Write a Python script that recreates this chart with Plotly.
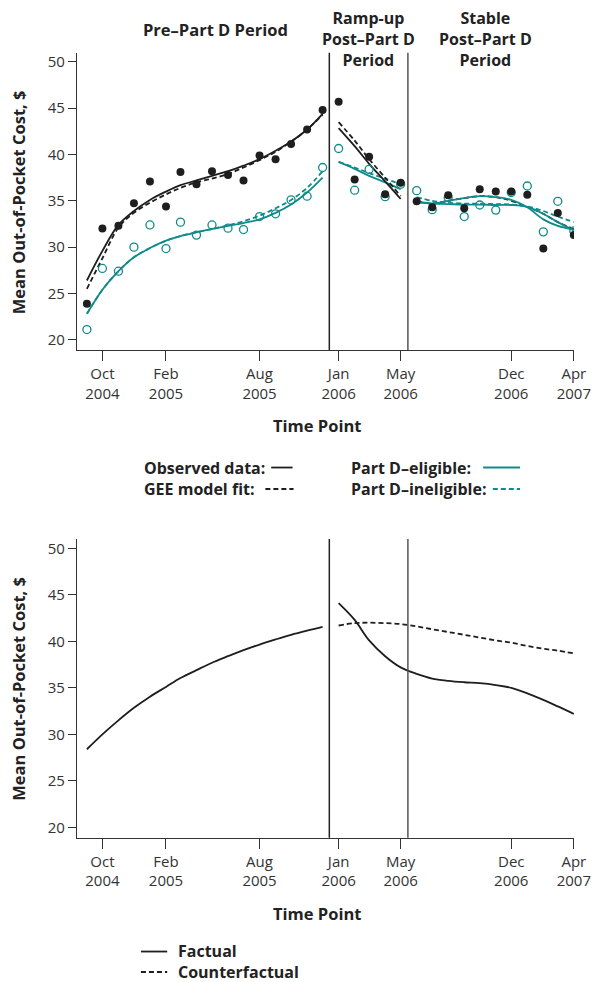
import plotly.graph_objects as go
import pandas as pd

W, H = 608, 982

# ---------------- data ----------------
def mlist(a, b):
    return [d.strftime('%Y-%m-%d') for d in pd.date_range(a, b, freq='MS')]

months_pre = mlist('2004-09-01', '2005-12-01')      # 16
months_ramp = mlist('2006-01-01', '2006-05-01')     # 5
months_stable = mlist('2006-06-01', '2007-04-01')   # 11
months_post = mlist('2006-01-01', '2007-04-01')     # 16
months_all = months_pre + months_post

# observed monthly means (top panel)
eligible_obs = [23.9, 32.0, 32.3, 34.75, 37.1, 34.4, 38.1, 36.8, 38.2, 37.8, 37.2, 39.9, 39.5, 41.15, 42.7, 44.8,
                45.7, 37.3, 39.75, 35.7, 36.95,
                34.95, 34.3, 35.6, 34.2, 36.25, 36.0, 36.0, 35.65, 29.85, 33.7, 31.3]
ineligible_obs = [21.1, 27.7, 27.4, 30.0, 32.4, 29.85, 32.7, 31.3, 32.4, 32.05, 31.9, 33.3, 33.6, 35.1, 35.5, 38.6,
                  40.65, 36.15, 38.4, 35.45, 36.8,
                  36.1, 34.05, 35.35, 33.3, 34.55, 34.0, 35.9, 36.6, 31.65, 34.95, 31.75]

# fitted curves, pre period
black_solid_pre = [26.4, 29.6, 32.4, 33.9, 35.1, 36.0, 36.7, 37.2, 37.7, 38.2, 38.8, 39.5, 40.4, 41.4, 42.7, 44.4]
black_dash_pre = [25.5, 28.8, 32.1, 33.7, 34.8, 35.7, 36.4, 37.0, 37.4, 37.9, 38.6, 39.4, 40.3, 41.4, 42.7, 44.3]
teal_solid_pre = [22.8, 25.4, 27.4, 28.9, 29.9, 30.7, 31.2, 31.6, 31.95, 32.3, 32.6, 33.0, 33.7, 34.6, 35.9, 37.5]
teal_dash_pre = [22.8, 25.4, 27.4, 28.9, 29.9, 30.7, 31.2, 31.6, 31.95, 32.35, 32.8, 33.4, 34.2, 35.1, 36.4, 38.2]

# fitted lines, ramp-up period
black_solid_ramp = [42.85, 40.9, 39.0, 37.1, 35.2]
black_dash_ramp = [43.5, 41.5, 39.5, 37.5, 35.5]
teal_solid_ramp = [39.2, 38.45, 37.7, 37.0, 36.25]
teal_dash_ramp = [39.2, 38.6, 38.0, 37.4, 36.8]

# fitted lines, stable period
teal_wavy_stable = [35.0, 34.7, 35.0, 35.3, 35.5, 35.4, 35.1, 34.3, 33.0, 32.3, 31.9]
teal_flat_stable = [34.8, 34.7, 34.65, 34.6, 34.6, 34.55, 34.55, 34.35, 33.6, 32.7, 31.8]
teal_dash_stable = [35.4, 35.0, 34.8, 34.7, 34.7, 34.65, 34.6, 34.4, 33.9, 33.3, 32.7]
black_dash_stable = [35.0, 34.7, 35.0, 35.3, 35.5, 35.4, 35.0, 34.35, 33.6, 32.7, 31.95]

# bottom panel
factual_pre = [28.4, 30.0, 31.5, 32.85, 34.05, 35.1, 36.05, 36.9, 37.7, 38.4, 39.05, 39.65, 40.2, 40.7, 41.15, 41.55]
factual_post = [44.1, 42.3, 40.1, 38.4, 37.2, 36.5, 36.0, 35.75, 35.6, 35.5, 35.3, 35.0, 34.4, 33.7, 33.0, 32.2]
counterfactual = [41.7, 41.95, 42.0, 41.95, 41.85, 41.6, 41.3, 41.0, 40.7, 40.4, 40.1, 39.85, 39.5, 39.2, 39.0, 38.7]

tick_vals = ['2004-10-01', '2005-02-01', '2005-08-01', '2006-01-01', '2006-05-01', '2006-12-01', '2007-04-01']
tick_text = ['Oct<br>2004', 'Feb<br>2005', 'Aug<br>2005', 'Jan<br>2006', 'May<br>2006', 'Dec<br>2006', 'Apr<br>2007']
y_ticks = [20, 25, 30, 35, 40, 45, 50]
period_breaks = ['2005-12-14', '2006-05-15']

# ---------------- styling ----------------
BLACK = '#1e1e1e'
TEAL = '#0f8b8b'
AX = '#333333'
FONT = 'Open Sans'
DASH = '5px,3px'

fig = go.Figure()

def line(x, y, color, dash='solid', xa='x', ya='y', width=1.8):
    fig.add_trace(go.Scatter(x=x, y=y, mode='lines', xaxis=xa, yaxis=ya,
                             line=dict(color=color, width=width, dash=dash, shape='spline', smoothing=1.0),
                             showlegend=False, hoverinfo='skip'))

# top panel lines
line(months_pre, teal_dash_pre, TEAL, DASH)
line(months_pre, teal_solid_pre, TEAL)
line(months_pre, black_dash_pre, BLACK, DASH)
line(months_pre, black_solid_pre, BLACK)

line(months_ramp, teal_dash_ramp, TEAL, DASH)
line(months_ramp, teal_solid_ramp, TEAL)
line(months_ramp, black_dash_ramp, BLACK, DASH)
line(months_ramp, black_solid_ramp, BLACK)

line(months_stable, black_dash_stable, BLACK, DASH)
line(months_stable, teal_flat_stable, TEAL)
line(months_stable, teal_dash_stable, TEAL, DASH)
line(months_stable, teal_wavy_stable, TEAL)

# markers
fig.add_trace(go.Scatter(x=months_all, y=ineligible_obs, mode='markers', xaxis='x', yaxis='y',
                         marker=dict(symbol='circle-open', size=8, color=TEAL, line=dict(width=1.3, color=TEAL)),
                         showlegend=False, hoverinfo='skip'))
fig.add_trace(go.Scatter(x=months_all, y=eligible_obs, mode='markers', xaxis='x', yaxis='y',
                         marker=dict(symbol='circle', size=8, color=BLACK),
                         showlegend=False, hoverinfo='skip'))

# bottom panel
line(months_pre, factual_pre, BLACK, xa='x2', ya='y2')
line(months_post, factual_post, BLACK, xa='x2', ya='y2')
line(months_post, counterfactual, BLACK, DASH, xa='x2', ya='y2')

# ---------------- layout ----------------
def px_x(p):
    return p / W

def px_y(p):
    return 1 - p / H

xdom = [px_x(79.3), px_x(590.5)]
top_dom = [px_y(349.3), px_y(51.7)]
bot_dom = [px_y(837.5), px_y(538.5)]
xrange_ = ['2004-08-13', '2007-04-01 08:00']
yrange_ = [18.9, 51.0]

def xaxis(anchor):
    return dict(domain=xdom, range=xrange_, type='date', anchor=anchor,
                tickvals=tick_vals, ticktext=tick_text, ticks='outside', ticklen=10, tickwidth=1.3,
                tickcolor=AX, showline=True, linecolor=AX, linewidth=1.3, showgrid=False, zeroline=False,
                tickfont=dict(family=FONT, size=15, color='#333'))

def yaxis(dom, anchor):
    return dict(domain=dom, range=yrange_, anchor=anchor, tickvals=y_ticks, ticks='outside', ticklen=8,
                tickwidth=1.3, tickcolor=AX, showline=True, linecolor=AX, linewidth=1.3, showgrid=False,
                zeroline=False, tickfont=dict(family=FONT, size=15, color='#333'))

shapes = []
for xr, yr in (('x', 'y'), ('x2', 'y2')):
    for i, d in enumerate(period_breaks):
        shapes.append(dict(type='line', xref=xr, yref=yr + ' domain', x0=d, x1=d, y0=0, y1=1,
                           line=dict(color='#222' if i == 0 else '#555', width=1.5)))

# legend swatches
def seg(x0, x1, y, color, dash='solid'):
    shapes.append(dict(type='line', xref='paper', yref='paper', x0=px_x(x0), x1=px_x(x1),
                       y0=px_y(y), y1=px_y(y), line=dict(color=color, width=1.8, dash=dash)))

seg(279, 301, 467, BLACK)
seg(273, 302, 488.5, BLACK, DASH)
seg(497, 535, 467, TEAL)
seg(507, 535, 488.5, TEAL, DASH)
seg(145, 172, 951.5, BLACK)
seg(145, 172, 972, BLACK, DASH)

ann = []
def text(t, x, y, size=16.5, bold=True, xanchor='center', angle=0, color='#222', align='center'):
    if bold:
        t = '<br>'.join('<b>%s</b>' % p for p in t.split('<br>'))
    ann.append(dict(text=t, x=px_x(x), y=px_y(y), xref='paper', yref='paper',
                    xanchor=xanchor, yanchor='middle', showarrow=False, textangle=angle, align=align,
                    font=dict(family=FONT, size=size, color=color)))

text('Pre–Part D Period', 222, 29)
text('Ramp-up<br>Post–Part D<br>Period', 379, 38, size=16)
text('Stable<br>Post–Part D<br>Period', 499, 38, size=16)

text('Mean Out-of-Pocket Cost, $', 19, 201, angle=-90)
text('Mean Out-of-Pocket Cost, $', 19, 688, angle=-90)
text('Time Point', 326, 425)
text('Time Point', 326, 913)

text('Observed data:<br>GEE model fit:', 146, 478, size=16, xanchor='left', align='left')
text('Part D–eligible:<br>Part D–ineligible:', 359, 478, size=16, xanchor='left', align='left')
text('Factual<br>Counterfactual', 181, 961.5, size=16, xanchor='left', align='left')

fig.update_layout(
    width=W, height=H, margin=dict(l=0, r=0, t=0, b=0),
    paper_bgcolor='white', plot_bgcolor='white',
    xaxis=xaxis('y'), yaxis=yaxis(top_dom, 'x'),
    xaxis2=xaxis('y2'), yaxis2=yaxis(bot_dom, 'x2'),
    shapes=shapes, annotations=ann, showlegend=False,
)

fig.write_html('out.html', config={'displayModeBar': False},
               post_script="document.body.style.margin='0';document.body.style.padding='0';")
